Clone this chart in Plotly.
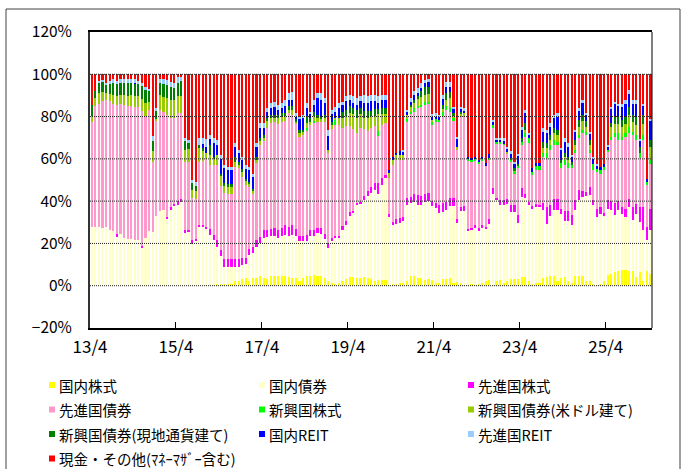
import plotly.graph_objects as go

# ---------------- data (percent of fund assets, monthly from 2013/4) ----------------
tick_labels = ["13/4", "15/4", "17/4", "19/4", "21/4", "23/4", "25/4"]
tick_months = [0, 24, 48, 72, 96, 120, 144]
y_ticks = [-20, 0, 20, 40, 60, 80, 100, 120]

dom_stock = [  # 国内株式
    0, 0, 0, 0, 0, 0, 0, 0, 0, 0,
    0, 0, 0, 0, 0, 0, 0, 0, 0, 0,
    0, 0, 0, 0, 0, 0, 0, 0, 0, 0,
    0, 0, 0.5, 0.5, 0.5, 0.8, 0.8, 0.8, 1, 1,
    2, 2, 3, 3.5, 2, 3.5, 3.5, 4.5, 3.5, 3,
    4.5, 4.5, 4.5, 4.5, 4.5, 4, 3.5, 3.5, 2, 3.5,
    4.4, 4.8, 5.2, 4.8, 4.4, 3.6, 2, 1.3, 0.8, 1.3,
    2, 3.3, 4, 4, 3.6, 3.6, 4, 3.6, 3.3, 2,
    2.8, 2.8, 2.8, 0.5, 0.8, 0.8, 1.3, 1.3, 2, 4.4,
    4.4, 3.6, 3.6, 2.8, 3.3, 2.8, 1.3, 1.3, 3.3, 3.3,
    3.6, 1.3, 1.6, 1.3, 0.5, 0.5, 0.8, 0.5, 0.8, 1.3,
    2, 2.8, 0.5, 2, 2.8, 1.3, 2.4, 3.3, 3.3, 3.3,
    4, 4, 2, 0.8, 1.2, 1.2, 3.6, 4, 4.4, 4.4,
    2, 3.6, 4, 2, 1.2, 4.4, 4.4, 4.4, 2, 2,
    1, 0.5, 1, 2, 5, 5.5, 6.5, 7, 7.5, 7.5,
    7, 7, 4, 6.5, 2, 7, 5.5,
]
dom_bond = [  # 国内債券
    27.6, 28, 27.6, 27.2, 27.6, 26.5, 25.7, 23.5, 24.3, 22.4,
    21.9, 21.9, 21.4, 21.4, 18.3, 22.4, 25.7, 25.2, 33, 35.5,
    36, 32, 36, 37.5, 38.3, 39.8, 25, 25.5, 19.5, 21,
    28, 28, 26.5, 23.5, 21, 17.7, 13.2, 8.2, 8, 8,
    7, 7, 7, 7, 12.5, 12, 15, 15.5, 19, 20,
    18.8, 18.8, 18, 18.8, 19.5, 19.5, 20.5, 20, 19, 17.5,
    16.6, 18.5, 18.1, 20.2, 20.1, 18.4, 15.8, 19.7, 21.7, 21.2,
    24.5, 25.5, 29, 30.3, 34.7, 35.4, 36.6, 38.6, 40.5, 43.5,
    40.5, 44.9, 48.1, 32, 27.7, 28.2, 28.3, 29.1, 36.3, 34.6,
    35.4, 34.7, 34.7, 37, 36.9, 34.7, 35.4, 33, 31.7, 32.5,
    34.2, 36.3, 28, 34.1, 35, 25.5, 25.7, 27, 25.2, 26.2,
    25, 26.2, 43, 38.6, 35.5, 37, 36.1, 31.7, 31.7, 26.3,
    38, 37.4, 36, 35.6, 36.1, 35.8, 32.4, 25, 28.6, 31.6,
    34, 30.2, 26.7, 28.7, 27.6, 31.4, 36.2, 37.5, 40.5, 41,
    37, 32.1, 33, 31, 31.5, 30.5, 27.1, 29, 26.5, 25.1,
    30, 24, 30, 23.5, 24.3, 14.6, 20.8,
]
dev_stock = [  # 先進国株式
    0, 0, 0, 0, 0, 0, 0, 0.8, 0, 0,
    0, 0, 0, 0, 0.6, 0, 0, 0, 0, 0,
    0, 0.5, 1, 1, 2, 1, 1.5, 1, 2, 1,
    0.5, 0.5, 0.8, 3, 2.5, 3, 3, 3.5, 3.5, 3.5,
    3.5, 3.5, 3, 2.5, 3, 3, 3, 3, 4, 3.5,
    3.5, 4, 4, 4, 4.5, 4.5, 4.5, 3.5, 2.5, 2.5,
    3.2, 3.2, 3.2, 2.4, 2.8, 2.4, 2.4, 1.6, 1, 1,
    1.6, 1.6, 2, 1, 0.6, 0.8, 1.6, 2.4, 3, 3,
    5.2, 3.2, 1.5, 1.3, 1.6, 2.4, 2.4, 2, 3.1, 3.1,
    3.5, 4.7, 3.9, 3.5, 3.6, 2.4, 2.4, 3.9, 3.9, 3.9,
    3.6, 3.8, 2, 1.6, 2, 1, 1, 1.2, 1.3, 1,
    1, 2.5, 2.8, 0.8, 2.4, 2.4, 2.6, 3.2, 3.2, 3.9,
    4, 2, 1.5, 1.1, 1.2, 1, 3, 8, 5, 5,
    5, 2.4, 4.7, 4.7, 4.7, 4.7, 4.7, 3.1, 1.6, 3.6,
    2.4, 3.9, 3, 1.6, 4, 4, 5.5, 4, 3, 3.9,
    4, 6.3, 4.7, 7, 11, 6.3, 10,
]
dev_bond = [  # 先進国債券
    49.9, 57, 58.4, 60.3, 60.4, 61, 60.3, 61.2, 61.7, 63.1,
    63.1, 63.1, 63.1, 63.1, 63.6, 58.1, 57.3, 33.2, 45, 47.5,
    46.3, 48.3, 42.1, 40.6, 41.6, 41.1, 32, 32, 19.9, 19,
    30.2, 30.3, 32.2, 30, 33.2, 35.7, 30, 31.5, 31, 31,
    43.5, 43.1, 38.4, 34.5, 29.2, 25, 36.4, 43.7, 41.8, 48.1,
    50, 50.2, 50.2, 50.2, 49.2, 53.6, 52.3, 49.8, 47, 47.8,
    48.8, 49.5, 50.5, 50.1, 50.3, 53.2, 42.5, 51.7, 52.5, 52.6,
    46.4, 45.1, 40.5, 38.6, 33.3, 34.9, 31.8, 28.6, 27.9, 27.1,
    22.5, 25.1, 24.6, 17, 26.9, 28.2, 27.5, 27.1, 36, 39.4,
    39.1, 41.2, 42.5, 42.2, 42.4, 36.3, 38.5, 39.4, 41.6, 43.5,
    40.9, 36.9, 32.6, 42.9, 42.4, 32.4, 31.4, 30.7, 30.6, 30.9,
    28.4, 28, 28.1, 26, 26.3, 25.9, 21.5, 20.5, 14.9, 22.5,
    20.6, 27.1, 27.8, 14.9, 16.3, 16.8, 22.1, 23.2, 26.2, 25.6,
    25.6, 19.3, 21.7, 20.1, 22, 22.1, 24.5, 27.2, 27.2, 16,
    14.2, 17.3, 16, 20, 22.8, 28.9, 31.3, 28.9, 31.8, 33.9,
    31, 33.9, 30.1, 23.2, 31.5, 19.6, 21.5,
]
em_stock = [  # 新興国株式
    0, 0, 0, 0, 0, 0, 0, 0, 0, 0,
    0, 0, 0, 0, 0, 0, 0, 0, 0, 0,
    0, 0, 0, 0, 0, 0, 0, 0, 0, 0,
    0, 0, 0, 0, 0, 0, 0, 0, 0, 0,
    0, 0, 0, 0, 0, 0, 0, 0, 0, 0,
    0, 0, 0, 0, 0, 0, 0, 0, 0, 0,
    1.6, 0, 1, 0, 0, 0, 0, 0, 2.4, 0,
    0, 0, 0, 0, 0, 0, 0, 0, 0, 0,
    2, 0, 0, 0, 0, 0, 0, 0, 1.6, 0.8,
    1.6, 0.8, 0.8, 1.6, 0.8, 1.6, 1.6, 0.8, 1.6, 1.6,
    1.6, 0.8, 0, 0, 0.8, 0.8, 0.8, 0.8, 0.8, 0.8,
    0, 0.8, 1.6, 0.8, 1, 0.4, 0, 0.8, 0.8, 0.8,
    1.6, 1.6, 2.4, 1.6, 1.6, 1.6, 1.6, 2.4, 2.4, 2.4,
    1.6, 2.4, 2.4, 2.4, 1.6, 1.6, 1.6, 1.6, 1.6, 1.6,
    3.1, 1.6, 1.6, 1.6, 0.8, 1.6, 1.6, 3.1, 1.6, 1.6,
    3.1, 1.6, 2.4, 2.4, 2.4, 1.6, 1.6,
]
em_bond_usd = [  # 新興国債券(米ドル建て)
    3, 4, 5, 4, 3, 3, 4, 4, 4, 4.5,
    4.5, 5, 5, 5, 6, 6, 4, 5.5, 1, 7,
    7, 8, 8.7, 8.7, 7.9, 7.9, 5.5, 6, 3.9, 4,
    6.5, 5, 3, 4.7, 3.1, 4.7, 5, 3, 3, 3,
    2.4, 1.6, 2.4, 2.4, 1.6, 1.6, 1.6, 1.6, 1.6, 3.1,
    2.4, 1.6, 2.4, 2.4, 2.4, 1.6, 2.4, 0.8, 1.6, 1.4,
    2.4, 1.6, 2.4, 1.6, 1.4, 1.6, 1.6, 1.6, 0.8, 3.1,
    4.7, 4.7, 6.3, 7.1, 7.1, 6.3, 5.5, 6.3, 5.5, 4.7,
    8, 5, 4, 2.4, 2.4, 2, 2.4, 2.4, 1.6, 2.4,
    2.4, 3.1, 3.9, 3.1, 3.9, 0.8, 0, 0, 1.6, 3.1,
    4.7, 1.6, 1.6, 1.6, 0.8, 0, 0, 0, 0, 0,
    0, 0, 0, 0, 0, 0, 0.8, 0, 0.8, 0,
    0, 1.6, 0, 0, 0, 0, 2.4, 2.4, 2.4, 3.1,
    3.1, 0, 1.6, 1.6, 0, 2.4, 3.9, 3.9, 2.4, 2.4,
    0, 0, 0, 0, 0, 4.7, 4.7, 4.7, 4.7, 4.7,
    5.5, 4.7, 4.7, 0, 5.5, 0, 6.3,
]
em_bond_local = [  # 新興国債券(現地通貨建て)
    5, 3, 5, 5, 4, 5, 6, 6, 6, 6,
    6.5, 6, 6, 6, 6, 6, 5, 4.7, 3.5, 6,
    6.3, 6, 6.3, 5.5, 6.3, 7.1, 4.5, 3, 3.1, 2.4,
    1.5, 1.5, 0, 4.7, 0.8, 0, 1, 1.5, 1.5, 1.5,
    2.4, 1.5, 1.6, 0.8, 0.8, 0.8, 1.6, 1.6, 1.6, 1.6,
    1.6, 1.6, 1.6, 1.6, 1.6, 1.6, 1.6, 1.6, 1.6, 1,
    3.1, 1.6, 2, 1.6, 1, 1.6, 0, 1.6, 0, 0,
    3.1, 3.1, 3.1, 3.1, 3.9, 3.1, 3.1, 3.1, 2.4, 3.1,
    2.4, 3.1, 3.1, 0, 0, 0, 0, 0, 0, 0.8,
    1.6, 1.6, 3.1, 3.9, 3.1, 0, 0, 0, 1.6, 3.1,
    3.1, 0.8, 0, 0.8, 0, 0, 0, 0, 0, 0,
    0, 0, 0, 0, 0, 0, 0, 0.8, 0.8, 1,
    1.6, 3.1, 0, 0, 0, 0, 3.1, 2.4, 2.4, 2.4,
    2.4, 1.6, 1.6, 1.6, 1.6, 2.4, 3.1, 3.1, 2.4, 2.4,
    0, 0, 0, 0, 0, 1.6, 3.1, 3.1, 3.1, 3.1,
    3.9, 3.1, 3.9, 3.1, 3.9, 0, 3.1,
]
dom_reit = [  # 国内REIT
    0, 0, 0, 0, 0, 0, 0, 0, 0, 0,
    0, 0, 0.5, 0, 0, 0, 0, 0, 0, 0,
    0, 0, 0, 0, 0, 0, 0, 0, 0, 0,
    0, 1.5, 2.5, 3.1, 6.3, 4.7, 7, 7, 6.5, 6.5,
    5, 4, 4, 4.7, 5.5, 5.5, 4.7, 4.7, 3.1, 3.1,
    3.1, 3.9, 2.4, 2.4, 3.1, 3.1, 3.1, 0.8, 5.5, 5.5,
    3.9, 2.4, 3.1, 7.9, 7.9, 5.5, 6.3, 3.9, 3.1, 4.7,
    3.1, 3.9, 3.1, 2.4, 2.4, 3.1, 3.9, 3.9, 4.7, 3.9,
    3.1, 3.9, 3.9, 1.6, 1.6, 1.1, 1.6, 1.6, 1.6, 1.6,
    2.4, 1.6, 0.8, 1.6, 2.4, 1.6, 0.8, 1.6, 3.1, 3.1,
    2.4, 2.4, 3.9, 1.6, 1.6, 0.8, 0.8, 0.8, 0.8, 0.8,
    1.6, 1.9, 1.6, 0.8, 1, 1.6, 1.6, 2.4, 2.4, 3.9,
    3.9, 4.7, 1.6, 1.6, 1.6, 1.6, 4.7, 4.7, 3.9, 4.7,
    6.3, 4.7, 5.5, 4.7, 2.4, 3.9, 4.7, 5.5, 3.1, 3.1,
    2.4, 1.6, 1.6, 1.6, 1.6, 7, 6.3, 5.5, 6.3, 6.3,
    6.3, 5.5, 6.3, 3.1, 4.7, 1.6, 9.4,
]
dev_reit = [  # 先進国REIT
    0, 0, 1, 1, 1, 1.5, 2, 1.5, 2, 2,
    2, 2, 2, 1.5, 1.5, 1.5, 1, 2.4, 1.5, 2,
    2.4, 2.5, 2.4, 2.4, 2.4, 1.6, 1.5, 1.5, 1.6, 1.6,
    3, 3, 4, 1.6, 2.4, 2.4, 2, 1.5, 1.5, 1.5,
    1.6, 1.6, 1.6, 1.6, 1.6, 1.6, 1.6, 2.4, 2.4, 1.6,
    2.4, 2.4, 2.4, 2.4, 3.1, 3.1, 3.9, 1.6, 0.8, 1.6,
    2.4, 0.8, 2.4, 2.4, 3.1, 2.4, 3.1, 1.6, 2.4, 2.4,
    1.6, 2.4, 2.4, 3.1, 3.1, 2.4, 3.9, 3.1, 3.1, 3.1,
    3.1, 2.4, 2.4, 0, 0, 0, 0, 0.8, 0.8, 1.6,
    1.6, 2.4, 2.4, 1.6, 1.6, 0.8, 1.6, 0.8, 1.6, 2.4,
    2.4, 0.8, 0.8, 0.8, 0.8, 0, 0, 0, 0, 0,
    0, 0, 0.8, 0.8, 1, 1.2, 0.8, 0.8, 0.8, 0.8,
    1.6, 1.6, 0.8, 0, 0, 0, 1.6, 1.6, 1.6, 1.6,
    1.6, 0.8, 1.6, 1.6, 0.8, 0.8, 0.8, 1.6, 0.8, 0.8,
    0.8, 0.8, 0, 0, 0.8, 0.8, 0.8, 0.8, 1.6, 1.6,
    1.6, 1.6, 1.6, 0.8, 0.8, 0, 0.8,
]
cash = [  # 現金・その他(マネーマザー含む)
    14.5, 8, 3, 2.5, 4, 3, 2, 3, 2, 2,
    2, 2, 2, 3, 4, 6, 7, 29, 16, 2,
    2, 2.7, 3.5, 4.3, 1.5, 1.5, 30, 31, 50, 51,
    30.3, 30.2, 30.5, 28.9, 30.2, 31, 38, 43, 44, 44,
    32.6, 35.7, 39, 43, 43.8, 47, 32.6, 23, 23, 16,
    13.7, 13, 14.5, 13.7, 12.1, 9, 8.2, 18.4, 20, 19.2,
    13.6, 17.6, 12.1, 9, 9, 11.3, 26.3, 17, 15.3, 13.7,
    13, 10.4, 9.6, 10.4, 11.3, 10.4, 9.6, 10.4, 9.6, 9.6,
    10.4, 9.6, 9.6, 45.2, 39, 37.3, 36.5, 35.7, 17, 11.3,
    8, 6.3, 4.3, 2.7, 2, 19, 18.4, 19.2, 10, 3.5,
    3.5, 15.3, 29.5, 15.3, 16.1, 39, 39.5, 39, 40.5, 39,
    42, 37.8, 21.6, 30.2, 30, 30.2, 34.2, 36.5, 41.3, 37.5,
    24.7, 16.9, 27.9, 44.4, 42, 42, 25.5, 26.3, 23.1, 19.2,
    18.4, 35, 30.2, 32.6, 38.1, 26.3, 16.1, 12.1, 18.4, 27.1,
    39.1, 42.2, 43.8, 42.2, 33.5, 15.4, 13.1, 13.9, 13.9, 12.3,
    7.6, 12.3, 12.3, 30.4, 13.9, 49.3, 21,
]

series = [
    ("国内株式", dom_stock, "#FFFF00"),
    ("国内債券", dom_bond, "#FFFFCC"),
    ("先進国株式", dev_stock, "#FF00FF"),
    ("先進国債券", dev_bond, "#FF99CC"),
    ("新興国株式", em_stock, "#00FF00"),
    ("新興国債券(米ドル建て)", em_bond_usd, "#99CC00"),
    ("新興国債券(現地通貨建て)", em_bond_local, "#008000"),
    ("国内REIT", dom_reit, "#0000FF"),
    ("先進国REIT", dev_reit, "#99CCFF"),
    ("現金・その他(ﾏﾈｰﾏｻﾞｰ含む)", cash, "#FF0000"),
]

# ---------------- layout geometry ----------------
FIG_W, FIG_H = 681, 469
M_L, M_R, M_T, M_B = 90, 29, 32, 141
PW = FIG_W - M_L - M_R
PH = FIG_H - M_T - M_B
FONT = "Noto Sans CJK JP, Noto Sans, sans-serif"


def px_x(px):
    return (px - M_L) / PW


def px_y(py):
    return (FIG_H - M_B - py) / PH


n = len(cash)
x = [i + 0.5 for i in range(n)]

fig = go.Figure()
for name, vals, color in series:
    fig.add_trace(go.Bar(
        x=x, y=vals, name=name,
        marker=dict(color=color, line=dict(width=0)),
        showlegend=False,
        hovertemplate=name + ": %{y}%<extra></extra>",
    ))

shapes = []
# dotted gridlines drawn over the bars
for v in y_ticks[1:-1]:
    shapes.append(dict(type="line", xref="paper", yref="y", x0=0, x1=1, y0=v, y1=v,
                       line=dict(color="#202020", width=1, dash="1px,1px"), layer="above"))
# right border of plot
shapes.append(dict(type="line", xref="paper", yref="paper", x0=1, x1=1, y0=0, y1=1,
                   line=dict(color="#000000", width=1), layer="above"))
# outer frame of the whole chart
shapes.append(dict(type="rect", xref="paper", yref="paper",
                   x0=px_x(6), x1=px_x(680), y0=px_y(476), y1=px_y(9),
                   line=dict(color="#404040", width=1), fillcolor="rgba(0,0,0,0)", layer="below"))

# legend (3 columns x 4 rows)
annotations = []
col_x = [49, 259, 468]
row_y = [385, 409.5, 434, 458.5]
for k, (name, _, color) in enumerate(series):
    r, c = divmod(k, 3)
    mx, my = col_x[c], row_y[r]
    shapes.append(dict(type="rect", xref="paper", yref="paper",
                       x0=px_x(mx), x1=px_x(mx + 6), y0=px_y(my + 3), y1=px_y(my - 3),
                       line=dict(width=0), fillcolor=color))
    annotations.append(dict(xref="paper", yref="paper", x=px_x(mx + 8), y=px_y(my),
                            xanchor="left", yanchor="middle", showarrow=False,
                            text=name, font=dict(family=FONT, size=14.5, color="#000000")))

y_labels = [("\u2212" if v < 0 else "") + str(abs(v)) + "%" for v in y_ticks]

fig.update_layout(
    width=FIG_W, height=FIG_H,
    margin=dict(l=M_L, r=M_R, t=M_T, b=M_B, pad=0),
    barmode="stack", bargap=0.4,
    paper_bgcolor="#FFFFFF", plot_bgcolor="#FFFFFF",
    font=dict(family=FONT, color="#000000"),
    shapes=shapes, annotations=annotations,
    showlegend=False,
    xaxis=dict(range=[0, 156.9], tickvals=tick_months, ticktext=tick_labels,
               showgrid=False, zeroline=False,
               showline=True, linecolor="#000000", linewidth=1.5, mirror=True,
               ticks="inside", ticklen=6, tickcolor="#000000", tickwidth=1,
               tickfont=dict(size=17, family=FONT), ticklabelstandoff=3),
    yaxis=dict(range=[-20, 120], tickvals=y_ticks, ticktext=y_labels,
               showgrid=False, zeroline=False,
               showline=True, linecolor="#333333", linewidth=2,
               ticks="", tickfont=dict(size=15.5, family=FONT), ticklabelstandoff=13),
)

fig.write_html("out.html", config={"displayModeBar": False},
               post_script="document.body.style.margin='0px';document.body.style.overflow='hidden';")
